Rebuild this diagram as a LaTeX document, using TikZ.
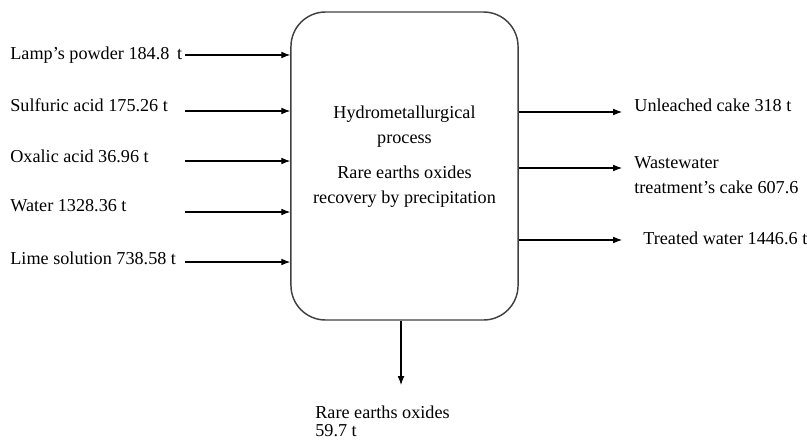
\documentclass[tikz,border=0pt]{standalone}
\usepackage{fontspec}
\setmainfont{Liberation Serif}
\usetikzlibrary{arrows.meta, positioning, calc}

\begin{document}
\begin{tikzpicture}[
    x=0.55pt, y=-0.55pt,
    every node/.style={font=\fontsize{10}{13.75}\selectfont, inner sep=0pt},
    process/.style={draw=black!75, line width=0.8pt, rounded corners=19pt,
        minimum width=124.9pt, minimum height=169.4pt},
    label/.style={anchor=west, align=left},
    flow/.style={draw, line width=0.6pt, -{Latex[length=1.7mm, width=1.3mm]}}
]
\useasboundingbox (0,0) rectangle (807,443);

% central process
\node[process] (proc) at (404.5,166) {};
\node[align=center] (proctext) at (404.5,157) {Hydrometallurgical\\process\\[5.5pt]
    Rare earths oxides\\recovery by precipitation};

% inputs
\node[label] (lamp) at (10,55) {Lamp’s powder 184.8\, t};
\node[label] (sulf) at (10,105) {Sulfuric acid 175.26 t};
\node[label] (oxal) at (10,156) {Oxalic acid 36.96 t};
\node[label] (water) at (10,206) {Water 1328.36 t};
\node[label] (lime) at (10,258) {Lime solution 738.58 t};

\coordinate (in1) at (185,55);
\coordinate (in2) at (185,111);
\coordinate (in3) at (185,161);
\coordinate (in4) at (185,212);
\coordinate (in5) at (185,262);
\foreach \i in {1,...,5}
    \draw[flow] (in\i) -- (in\i -| proc.west);

% outputs
\node[label] (cake) at (634,105) {Unleached cake 318 t};
\node[label] (wwcake) at (634,175) {Wastewater\\treatment’s cake 607.6};
\node[label] (treated) at (643,238) {Treated water 1446.6 t};

\coordinate (out1) at (622,112);
\coordinate (out2) at (622,168);
\coordinate (out3) at (622,240);
\foreach \i in {1,2,3}
    \draw[flow] (out\i -| proc.east) -- (out\i);

% product
\node[label, anchor=north west, font=\fontsize{10}{9.5}\selectfont] (oxides) at (315,406)
    {Rare earths oxides\\59.7 t};
\coordinate (prod) at (401,385);
\draw[flow] (prod |- proc.south) -- (prod);
\end{tikzpicture}
\end{document}
